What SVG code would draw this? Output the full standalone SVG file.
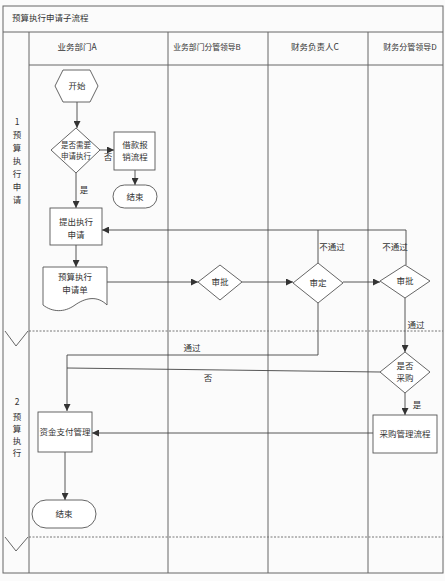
<svg xmlns="http://www.w3.org/2000/svg" width="445" height="581" viewBox="0 0 445 581">
<defs>
<marker id="arr" viewBox="0 0 10 10" refX="10" refY="5" markerWidth="7" markerHeight="7" orient="auto" markerUnits="userSpaceOnUse">
<path d="M0,0 L10,5 L0,10 Z" fill="#333"/>
</marker>
<style>
.frame{fill:none;stroke:#666;stroke-width:1}
.dash{fill:none;stroke:#777;stroke-width:1;stroke-dasharray:2,1.5}
.shape{fill:#fff;stroke:#555;stroke-width:0.9}
.con{fill:none;stroke:#444;stroke-width:0.9}
.conA{fill:none;stroke:#444;stroke-width:0.9;marker-end:url(#arr)}
text{font-family:"Noto Sans CJK SC","Liberation Sans",sans-serif;font-size:8.5px;fill:#333;text-anchor:middle}
.hdr{font-size:8.5px}
.lbl{font-size:8.5px}
</style>
</defs>
<rect x="0" y="0" width="445" height="581" fill="#fbfbfb"/>
<g id="frame">
<rect class="frame" x="3" y="6" width="440" height="567"/>
<line class="frame" x1="3" y1="32" x2="443" y2="32"/>
<line class="frame" x1="29" y1="65" x2="443" y2="65"/>
<line class="frame" x1="29" y1="32" x2="29" y2="573"/>
<line class="frame" x1="168" y1="32" x2="168" y2="573"/>
<line class="frame" x1="268" y1="32" x2="268" y2="573"/>
<line class="frame" x1="368" y1="32" x2="368" y2="573"/>
<line class="dash" x1="29" y1="331" x2="443" y2="331"/>
<line class="dash" x1="29" y1="537" x2="443" y2="537"/>
<path class="frame" d="M5,331 L16,346 L28,331"/>
<path class="frame" d="M5,537 L16,551 L28,537"/>
<text x="12" y="21" class="hdr" style="text-anchor:start">预算执行申请子流程</text>
<text x="77" y="50" class="hdr">业务部门A</text>
<text x="207" y="50" class="hdr" style="font-size:7.8px">业务部门分管领导B</text>
<text x="315" y="50" class="hdr">财务负责人C</text>
<text x="410" y="50" class="hdr" style="font-size:8px">财务分管领导D</text>
</g>
<g id="lane1">
<text x="17" y="125">1</text>
<text x="17" y="138">预</text>
<text x="17" y="151">算</text>
<text x="17" y="164">执</text>
<text x="17" y="177">行</text>
<text x="17" y="190">申</text>
<text x="17" y="203">请</text>
</g>
<g id="lane2">
<text x="17" y="405">2</text>
<text x="17" y="420">预</text>
<text x="17" y="432">算</text>
<text x="17" y="444">执</text>
<text x="17" y="456">行</text>
</g>
<g id="connectors">
<line class="conA" x1="77" y1="102" x2="77" y2="128"/>
<line class="conA" x1="100" y1="150" x2="114" y2="150"/>
<line class="conA" x1="135" y1="170" x2="135" y2="185"/>
<line class="conA" x1="76" y1="173" x2="76" y2="208"/>
<line class="conA" x1="76" y1="245" x2="76" y2="267"/>
<line class="conA" x1="107" y1="282" x2="198" y2="282"/>
<line class="conA" x1="242" y1="282" x2="293" y2="282"/>
<line class="conA" x1="343" y1="282" x2="380" y2="282"/>
<path class="con" d="M318,263 V230"/>
<path class="conA" d="M406,265 V230 H102"/>
<line class="conA" x1="405" y1="298" x2="405" y2="352"/>
<path class="conA" d="M318,303 V355 H67 V411"/>
<path class="con" d="M380,372 L67,368"/>
<line class="conA" x1="405" y1="393" x2="405" y2="415"/>
<line class="conA" x1="373" y1="433" x2="92" y2="433"/>
<line class="conA" x1="65" y1="452" x2="65" y2="500"/>
<text x="108" y="160" class="lbl">否</text>
<text x="84" y="193" class="lbl">是</text>
<text x="332" y="250" class="lbl">不通过</text>
<text x="395" y="250" class="lbl">不通过</text>
<text x="416" y="328" class="lbl">通过</text>
<text x="192" y="351" class="lbl">通过</text>
<text x="208" y="381" class="lbl">否</text>
<text x="417" y="408" class="lbl">是</text>
</g>
<g id="start">
<polygon class="shape" points="55,86 63,70 90,70 98,86 90,102 63,102"/>
<text x="77" y="89">开始</text>
</g>
<g id="needApply">
<polygon class="shape" points="76,128 100,150 76,173 51,150"/>
<text x="76" y="148" style="font-size:7.5px">是否需要</text>
<text x="76" y="159" style="font-size:7.5px">申请执行</text>
</g>
<g id="loanProcess">
<rect class="shape" x="114" y="132" width="41" height="38"/>
<text x="135" y="148">借款报</text>
<text x="135" y="160">销流程</text>
</g>
<g id="end1">
<rect class="shape" x="113" y="185" width="44" height="23" rx="11.5"/>
<text x="135" y="200">结束</text>
</g>
<g id="submitApply">
<rect class="shape" x="50" y="208" width="52" height="37"/>
<text x="76" y="225">提出执行</text>
<text x="76" y="238">申请</text>
</g>
<g id="applyForm">
<path class="shape" d="M43,267 H107 V305 C97,295 85,298 75,305 C64,313 52,312 43,305 Z"/>
<text x="75" y="280">预算执行</text>
<text x="75" y="293">申请单</text>
</g>
<g id="approveB">
<polygon class="shape" points="220,265 242,282 220,300 198,282"/>
<text x="220" y="285">审批</text>
</g>
<g id="reviewC">
<polygon class="shape" points="318,263 343,283 318,303 293,283"/>
<text x="318" y="286">审定</text>
</g>
<g id="approveD">
<polygon class="shape" points="405,265 430,281 405,298 380,281"/>
<text x="405" y="284">审批</text>
</g>
<g id="purchase">
<polygon class="shape" points="405,352 430,372 405,393 380,372"/>
<text x="405" y="369">是否</text>
<text x="405" y="381">采购</text>
</g>
<g id="payment">
<rect class="shape" x="38" y="412" width="54" height="40"/>
<text x="65" y="435">资金支付管理</text>
</g>
<g id="purchaseProcess">
<rect class="shape" x="373" y="415" width="64" height="38"/>
<text x="405" y="437">采购管理流程</text>
</g>
<g id="end2">
<rect class="shape" x="32" y="500" width="64" height="28" rx="14"/>
<text x="64" y="517">结束</text>
</g>
</svg>
